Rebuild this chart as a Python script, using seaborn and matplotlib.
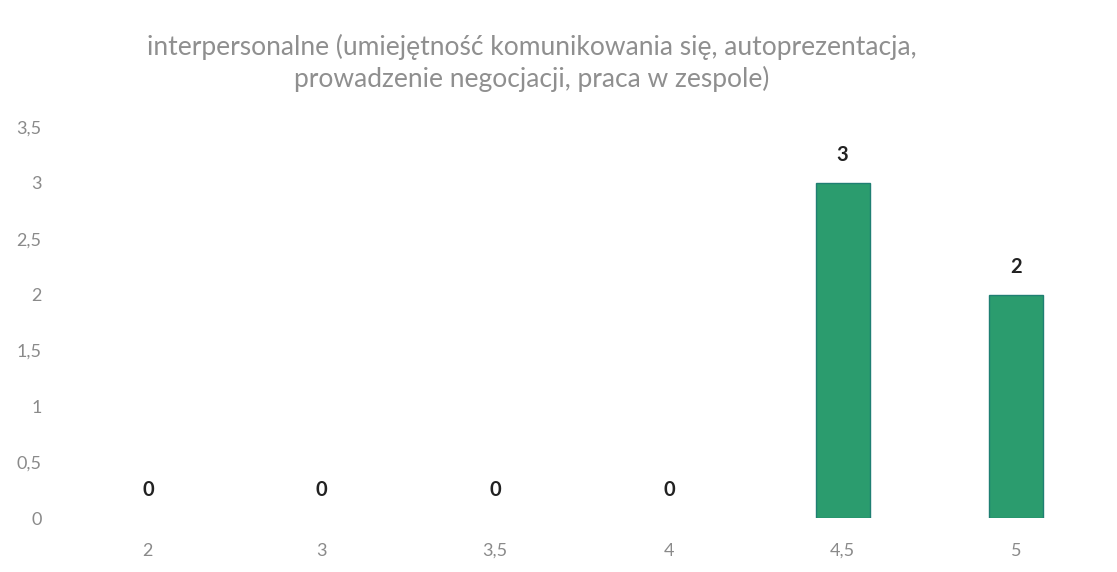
import matplotlib
matplotlib.use("Agg")
import matplotlib.pyplot as plt
import seaborn as sns
import pandas as pd

categories = ["2", "3", "3,5", "4", "4,5", "5"]
values = [0, 0, 0, 0, 3, 2]
yticks = [0, 0.5, 1, 1.5, 2, 2.5, 3, 3.5]
ytick_labels = ["0", "0,5", "1", "1,5", "2", "2,5", "3", "3,5"]
title = "interpersonalne (umiejętność komunikowania się, autoprezentacja,\nprowadzenie negocjacji, praca w zespole)"

sns.set_style("white")
plt.rcParams['font.family'] = ['Lato', 'DejaVu Sans']

df = pd.DataFrame({"cat": categories, "val": values})

fig = plt.figure(figsize=(11.17, 5.72), dpi=100)
ax = fig.add_axes([0.0546, 0.0944, 0.933, 0.6836])
sns.barplot(data=df, x="cat", y="val", ax=ax, color="#2b9c6e", width=0.31,
            edgecolor="#1f7f72", linewidth=1.0, saturation=1)
for p in ax.patches:
    if p.get_height() == 0:
        p.set_linewidth(0)

ax.set_ylim(0, 3.5)
ax.set_xlim(-0.5, len(categories) - 0.5)
ax.set_yticks(yticks)
ax.set_yticklabels(ytick_labels)
ax.set_xlabel("")
ax.set_ylabel("")
for s in ax.spines.values():
    s.set_visible(False)
ax.tick_params(axis="both", length=0, colors="#8a8a8a", labelsize=13)
ax.tick_params(axis="y", pad=14)
ax.tick_params(axis="x", pad=18)

for i, v in enumerate(values):
    ax.annotate(f"{v}", (i, v), xytext=(0, 13), textcoords="offset points",
                ha="center", va="bottom", fontsize=14.5, fontweight="bold", color="#222222")

fig.text(0.476, 0.89, title, ha="center", va="center", fontsize=19,
         color="#8f8f8f", linespacing=1.3)

fig.savefig("out.png", dpi=100)
